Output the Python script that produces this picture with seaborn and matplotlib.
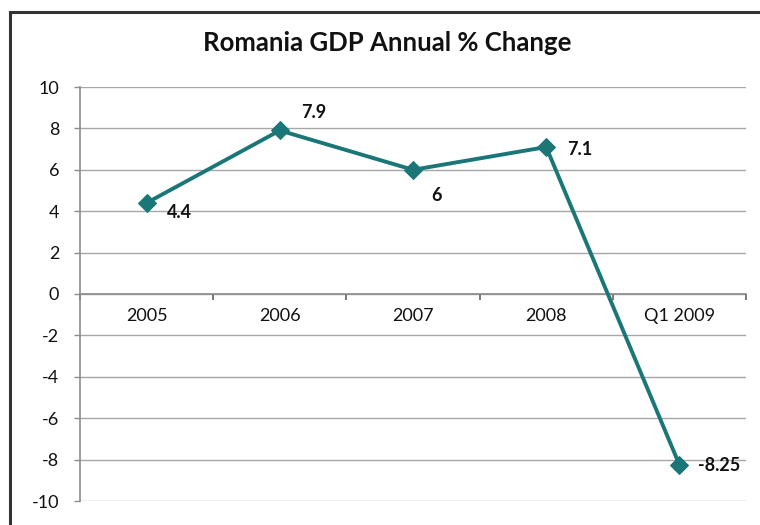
import matplotlib
matplotlib.use("Agg")
import matplotlib.pyplot as plt
from matplotlib.patches import Rectangle
import numpy as np
import pandas as pd
import seaborn as sns

categories = ["2005", "2006", "2007", "2008", "Q1 2009"]
gdp_change = [4.4, 7.9, 6.0, 7.1, -8.25]
value_labels = ["4.4", "7.9", "6", "7.1", "-8.25"]
y_ticks = [-10, -8, -6, -4, -2, 0, 2, 4, 6, 8, 10]

sns.set_theme(style="white")
plt.rcParams["font.family"] = ["Lato", "DejaVu Sans"]

line_color = "#1B7777"
grid_color = "#A6A6A6"
PX = 0.72  # points per pixel at 100 dpi

df = pd.DataFrame({"pos": np.arange(len(categories)), "value": gdp_change})

fig = plt.figure(figsize=(7.6, 5.25), dpi=100)
ax = fig.add_axes([80 / 760, 1 - 501 / 525, (746 - 80) / 760, (501 - 87) / 525])

for y in y_ticks:
    ax.axhline(y, color=grid_color, lw=1.0, zorder=0)

sns.lineplot(data=df, x="pos", y="value", ax=ax, color=line_color, lw=2.8,
             marker="D", markersize=9, markeredgecolor=line_color,
             markerfacecolor=line_color, sort=False, zorder=3)

# data label offsets in pixels (dx, dy) from each point
offsets = [(33, -10), (34, 18), (23, -26), (34, -2), (19, -1)]
for (i, v), lab, (dx, dy) in zip(enumerate(gdp_change), value_labels, offsets):
    ax.annotate(lab, (i, v), xytext=(dx * PX, dy * PX), textcoords="offset points",
                ha="left" if i == len(categories) - 1 else "center", va="center",
                fontsize=13, fontweight="bold", color="#111111")

ax.set_xlim(-0.5, len(categories) - 0.5)
ax.set_ylim(-10, 10)
ax.set_yticks(y_ticks)
ax.set_yticklabels([str(t) for t in y_ticks])
ax.set_xticks(np.arange(len(categories)))
ax.set_xticklabels(categories)
ax.set_xticks(np.arange(len(categories) + 1) - 0.5, minor=True)
ax.set_xlabel("")
ax.set_ylabel("")

for side in ["top", "right"]:
    ax.spines[side].set_visible(False)
ax.spines["bottom"].set_position(("data", 0))
ax.spines["bottom"].set_color("#8C8C8C")
ax.spines["bottom"].set_linewidth(1.2)
ax.spines["left"].set_color("#8C8C8C")
ax.spines["left"].set_linewidth(1.2)

ax.tick_params(axis="x", which="major", length=0, pad=10, labelsize=13, labelcolor="#111111")
ax.tick_params(axis="x", which="minor", length=4, width=1.1, color="#555555", direction="out", bottom=True)
ax.tick_params(axis="y", which="major", length=4, width=1.0, color="#8C8C8C", left=True,
               pad=11, labelsize=13, labelcolor="#111111")

fig.text(387 / 760, 1 - 43 / 525, "Romania GDP Annual % Change", ha="center", va="center",
         fontsize=18.5, fontweight="bold", color="#111111")

fig.patches.append(Rectangle((10 / 760, -0.05), 1.0, 1 - 12 / 525 + 0.05,
                             transform=fig.transFigure, fill=False,
                             edgecolor="#333333", lw=2.2, zorder=10))

fig.savefig("out.png", dpi=100)
